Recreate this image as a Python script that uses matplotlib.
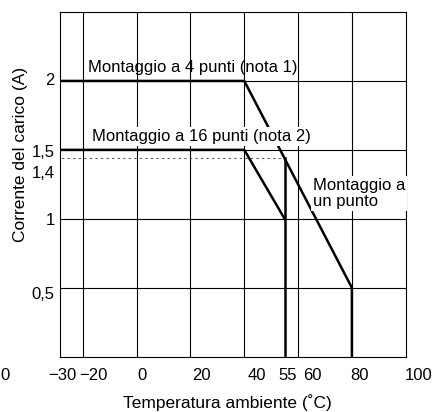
import matplotlib
matplotlib.use("Agg")
import matplotlib.pyplot as plt
import matplotlib.transforms as mtransforms

plt.rcParams["font.family"] = ["Liberation Sans", "DejaVu Sans"]

# derating curves (temperature in C, current in A)
temp_4pt = [-30, 40, 80, 80]
curr_4pt = [2.0, 2.0, 0.5, 0.0]
temp_16pt = [-30, 40, 55]
curr_16pt = [1.5, 1.5, 1.0]
temp_1pt = [55, 55]
curr_1pt = [0.0, 1.4375]
temp_dash = [-30, 55]
curr_dash = [1.4375, 1.4375]

# grid and labels
x_grid = [-20, 0, 20, 40, 60, 80]
y_grid = [0.5, 1.0, 1.5, 2.0]
x_labels = ["0", "\u221230", "\u221220", "0", "20", "40", "55", "60", "80", "100"]
x_label_pos = [-48.8, -27.8, -16.2, 2.0, 23.9, 44.7, 56.2, 65.2, 83.0, 104.9]
y_labels = ["2", "1,5", "1,4", "1", "0,5"]
y_label_pos = [2.0, 1.48, 1.33, 0.99, 0.45]


def main():
    fig = plt.figure(figsize=(4.32, 4.12), dpi=100)
    ax = fig.add_axes([0.1389, 0.1342, 0.8002, 0.8367])
    ax.set_xlim(-28.5, 100)
    ax.set_ylim(0, 2.5)

    # grid
    for x in x_grid:
        ax.axvline(x, color="black", lw=0.8, zorder=1)
    for y in y_grid:
        ax.axhline(y, color="black", lw=0.8, zorder=1)
    for s in ax.spines.values():
        s.set_linewidth(0.8)

    # curves
    ax.plot(temp_dash, curr_dash, color="#555555", lw=0.8, ls=(0, (2, 3)), zorder=2)
    ax.plot(temp_4pt, curr_4pt, color="black", lw=1.8, zorder=3, solid_joinstyle="miter")
    ax.plot(temp_16pt, curr_16pt, color="black", lw=1.8, zorder=3, solid_joinstyle="miter")
    ax.plot(temp_1pt, curr_1pt, color="black", lw=1.8, zorder=3)

    ax.set_xticks([])
    ax.set_yticks([])

    # tick labels (offset like the original drawing)
    tx = mtransforms.blended_transform_factory(ax.transData, ax.transAxes)
    for lab, pos in zip(x_labels, x_label_pos):
        ax.text(pos, -0.055, lab, transform=tx, ha="center", va="center",
                fontsize=12, clip_on=False)
    ty = mtransforms.blended_transform_factory(ax.transAxes, ax.transData)
    for lab, pos in zip(y_labels, y_label_pos):
        ax.text(-0.015, pos, lab, transform=ty, ha="right", va="center",
                fontsize=12, clip_on=False)

    # annotations
    ax.text(-18.1, 2.10, "Montaggio a 4 punti (nota 1)", fontsize=12,
            ha="left", va="center", zorder=4)
    ax.text(-16.7, 1.595, "Montaggio a 16 punti (nota 2)", fontsize=12,
            ha="left", va="center", zorder=4,
            bbox=dict(fc="white", ec="none", pad=1.5))
    ax.text(65.5, 1.185, "Montaggio a\nun punto", fontsize=12,
            ha="left", va="center", zorder=4, linespacing=1.1,
            bbox=dict(fc="white", ec="none", pad=1.5), clip_on=False)

    fig.text(21 / 432, 1 - 154 / 412, "Corrente del carico (A)", rotation=90,
             ha="center", va="center", fontsize=12.5)
    fig.text(227 / 432, 1 - 403 / 412, "Temperatura ambiente (\u02daC)",
             ha="center", va="center", fontsize=12.5)

    plt.savefig("out.png", dpi=100)


if __name__ == "__main__":
    main()
